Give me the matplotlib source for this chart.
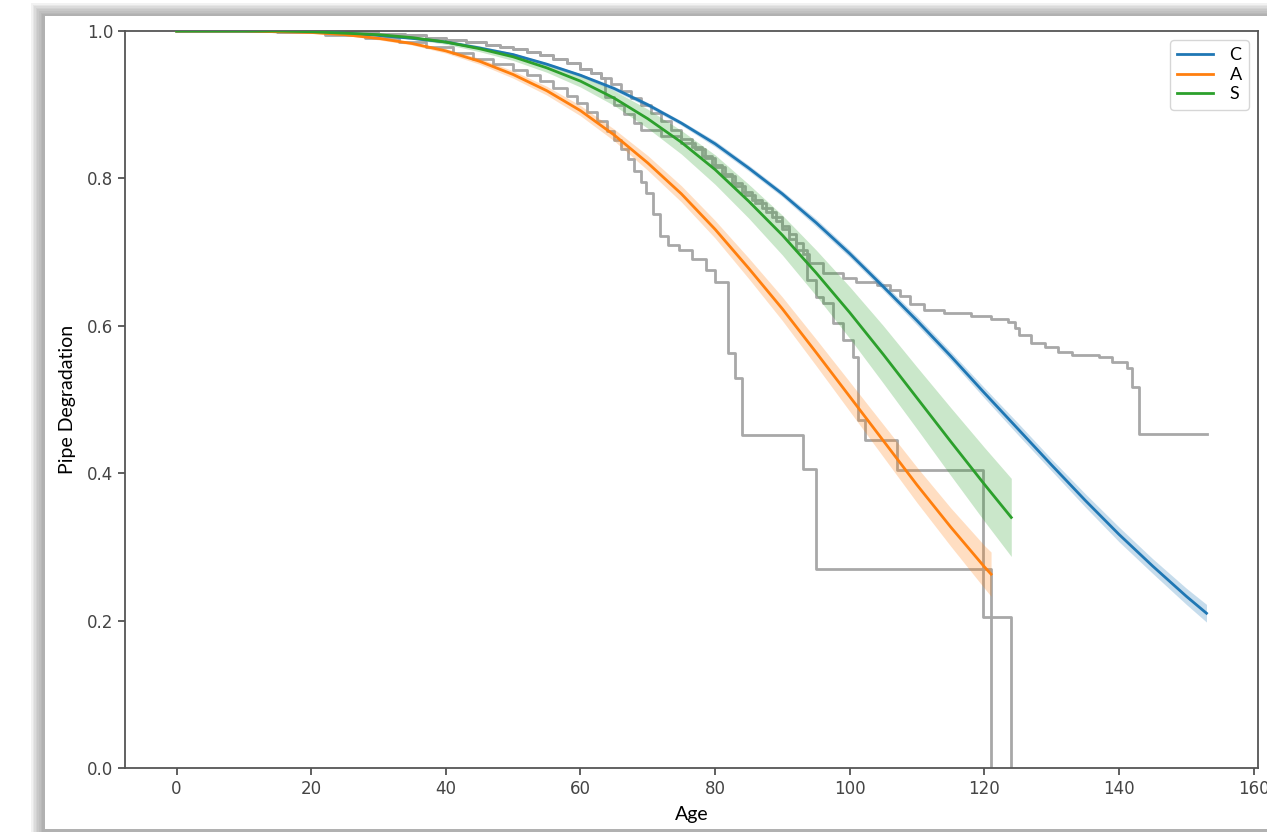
import matplotlib
matplotlib.use("Agg")
import matplotlib.pyplot as plt
from matplotlib.patches import Rectangle

# ---------------- data ----------------
ages_C = [0, 10, 15, 20, 25, 30, 35, 40, 45, 50, 55, 60, 65, 70, 75, 80, 85, 90, 95,
          100, 105, 110, 115, 120, 125, 130, 135, 140, 145, 150, 153]
surv_C = [1.000, 1.000, 0.999, 0.999, 0.997, 0.994, 0.990, 0.985, 0.977, 0.968, 0.955,
          0.940, 0.922, 0.900, 0.875, 0.847, 0.814, 0.779, 0.740, 0.698, 0.653, 0.607,
          0.559, 0.509, 0.460, 0.411, 0.363, 0.317, 0.274, 0.233, 0.210]
band_C = [0.000, 0.000, 0.000, 0.000, 0.000, 0.001, 0.001, 0.001, 0.001, 0.002, 0.002,
          0.002, 0.003, 0.003, 0.003, 0.004, 0.004, 0.004, 0.005, 0.005, 0.005, 0.006,
          0.006, 0.007, 0.008, 0.008, 0.009, 0.010, 0.010, 0.011, 0.012]

ages_A = [0, 5, 10, 15, 20, 25, 30, 35, 40, 45, 50, 55, 60, 65, 70, 75, 80, 85, 90,
          95, 100, 105, 110, 115, 120, 121]
surv_A = [1.000, 1.000, 1.000, 0.999, 0.998, 0.995, 0.990, 0.983, 0.973, 0.959, 0.941,
          0.919, 0.892, 0.859, 0.821, 0.779, 0.731, 0.678, 0.623, 0.564, 0.504, 0.444,
          0.384, 0.327, 0.273, 0.263]
band_A = [0.000, 0.000, 0.000, 0.000, 0.001, 0.001, 0.002, 0.002, 0.003, 0.004, 0.005,
          0.006, 0.007, 0.008, 0.010, 0.011, 0.012, 0.014, 0.016, 0.018, 0.020, 0.022,
          0.024, 0.026, 0.029, 0.030]

ages_S = [0, 5, 10, 15, 20, 25, 30, 35, 40, 45, 50, 55, 60, 65, 70, 75, 80, 85, 90,
          95, 100, 105, 110, 115, 120, 124]
surv_S = [1.000, 1.000, 1.000, 1.000, 0.999, 0.997, 0.995, 0.991, 0.985, 0.976, 0.965,
          0.950, 0.932, 0.909, 0.881, 0.849, 0.812, 0.769, 0.723, 0.672, 0.618, 0.561,
          0.502, 0.443, 0.385, 0.340]
band_S = [0.000, 0.000, 0.000, 0.000, 0.001, 0.001, 0.002, 0.002, 0.003, 0.004, 0.005,
          0.006, 0.008, 0.010, 0.013, 0.016, 0.020, 0.023, 0.027, 0.031, 0.035, 0.039,
          0.042, 0.046, 0.050, 0.053]

# Kaplan-Meier style step curves (age, value)
km1_age = [0, 25, 30, 34, 37, 40, 43, 46, 48, 50, 52, 54, 56, 58, 60, 61.5, 63, 64.5,
           66, 67.5, 69, 70.5, 72, 73.5, 75, 76.5, 78, 79.5, 81, 82.5, 84, 85.5, 87,
           88.5, 90, 91, 92, 93, 94, 96, 99, 101, 104, 106, 107.5, 109, 111, 114, 118,
           121, 123.5, 124.5, 125.2, 127, 129, 131, 133, 137, 139, 141.2, 141.9, 142.9,
           153]
km1_val = [1.0, 0.998, 0.996, 0.994, 0.991, 0.988, 0.985, 0.981, 0.978, 0.975, 0.971,
           0.967, 0.962, 0.956, 0.949, 0.943, 0.936, 0.928, 0.919, 0.909, 0.899, 0.889,
           0.878, 0.866, 0.854, 0.843, 0.831, 0.818, 0.806, 0.794, 0.782, 0.771, 0.760,
           0.748, 0.736, 0.725, 0.712, 0.698, 0.685, 0.672, 0.665, 0.660, 0.655, 0.648,
           0.640, 0.630, 0.622, 0.617, 0.613, 0.609, 0.605, 0.597, 0.588, 0.577, 0.571,
           0.565, 0.560, 0.557, 0.551, 0.543, 0.517, 0.453, 0.453]

km2_age = [0, 15, 22, 28, 33, 37, 41, 44, 47, 50, 52, 54, 56, 58, 59.5, 61, 62.5, 64,
           65, 66, 67, 68, 69, 69.8, 70.8, 71.8, 73, 74.7, 76.5, 78.7, 80, 81.9, 82.9,
           84, 93, 95, 121]
km2_val = [1.0, 0.998, 0.995, 0.990, 0.985, 0.978, 0.970, 0.962, 0.955, 0.947, 0.940,
           0.932, 0.922, 0.912, 0.902, 0.890, 0.878, 0.864, 0.852, 0.840, 0.826, 0.810,
           0.795, 0.780, 0.752, 0.722, 0.710, 0.703, 0.690, 0.676, 0.660, 0.563, 0.529,
           0.452, 0.406, 0.270, 0.0]

km3_age = [0, 25, 30, 34, 37, 40, 43, 46, 48, 50, 52, 54, 56, 58, 60, 61.5, 63,
           63.6, 65, 66.5, 68, 69, 72, 75, 77, 78.5, 80, 81.5, 83, 84.5, 86, 87.5, 89,
           90, 91, 92, 93.6, 95, 96, 97.5, 99, 100.5, 101.2, 102.2, 107, 119.8, 123.9]
km3_val = [1.0, 0.998, 0.996, 0.994, 0.991, 0.988, 0.985, 0.981, 0.978, 0.975, 0.971,
           0.967, 0.962, 0.956, 0.949, 0.943, 0.936, 0.910, 0.900, 0.888, 0.875, 0.866,
           0.858, 0.848, 0.840, 0.828, 0.815, 0.803, 0.790, 0.778, 0.766, 0.754, 0.742,
           0.731, 0.718, 0.703, 0.662, 0.639, 0.631, 0.604, 0.581, 0.558, 0.472, 0.445,
           0.404, 0.205, 0.0]

labels = ["C", "A", "S"]
colors = ["#1f77b4", "#ff7f0e", "#2ca02c"]

# ---------------- figure ----------------
W, H = 1267, 832
fig = plt.figure(figsize=(W / 100, H / 100), dpi=100)
fig.patch.set_facecolor("white")

def frect(x0, y0, x1, y1, **kw):
    # pixel coords, y measured from the top
    fig.patches.append(Rectangle((x0 / W, 1 - y1 / H), (x1 - x0) / W, (y1 - y0) / H,
                                 transform=fig.transFigure, zorder=-10, **kw))

# soft shadow frame of the screenshot (darker toward the inner edge)
for i in range(8):
    frect(31 + i * 1.6, 3 + i * 1.6, W + 5, H + 5, facecolor="#707070", alpha=0.09, lw=0)
frect(45, 16, W + 5, 829, facecolor="white", lw=0)

ax = fig.add_axes([125 / W, 1 - 768 / H, (1258 - 125) / W, (768 - 31) / H])
ax.set_facecolor("white")

for ag, v in [(km1_age, km1_val), (km2_age, km2_val), (km3_age, km3_val)]:
    ax.plot(ag, v, drawstyle="steps-post", color="#a8a8a8", lw=2.0, zorder=2)

for ag, s, b, lab, c in [(ages_C, surv_C, band_C, labels[0], colors[0]),
                         (ages_A, surv_A, band_A, labels[1], colors[1]),
                         (ages_S, surv_S, band_S, labels[2], colors[2])]:
    lo = [si - bi for si, bi in zip(s, b)]
    hi = [si + bi for si, bi in zip(s, b)]
    ax.fill_between(ag, lo, hi, color=c, alpha=0.25, lw=0, zorder=3)
    ax.plot(ag, s, color=c, lw=2.0, label=lab, zorder=4)

ax.set_ylim(0, 1.0)
ax.set_xticks(range(0, 161, 20))
ax.set_yticks([0.0, 0.2, 0.4, 0.6, 0.8, 1.0])
ax.tick_params(labelsize=12, colors="#444444", length=5, width=1.2)
for sp in ax.spines.values():
    sp.set_color("#555555")
    sp.set_linewidth(1.3)

lab_font = dict(family="Lato", size=14, color="black")
ax.set_xlabel("Age", fontdict=lab_font, labelpad=6)
ax.set_ylabel("Pipe Degradation", fontdict=lab_font, labelpad=8)

leg = ax.legend(loc="upper right", prop=dict(family="Lato", size=13),
                handlelength=2.0, borderpad=0.4, labelspacing=0.2, handletextpad=0.9)
leg.get_frame().set_edgecolor("#cccccc")

fig.savefig("out.png", dpi=100)
